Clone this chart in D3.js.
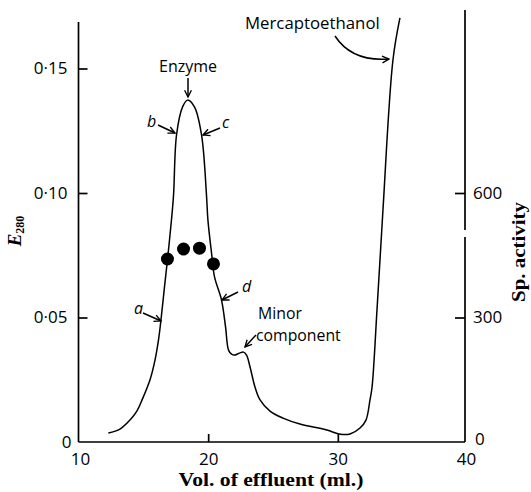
<!DOCTYPE html>
<html><head><meta charset="utf-8">
<script src="https://cdn.jsdelivr.net/npm/d3@7"></script>
<style>
html,body{margin:0;padding:0;background:#fff;}
svg{display:block;}
</style></head><body>
<svg id="chart" width="531" height="492"></svg>
<script>
// ---- data ----
const volume = [12.30, 13.20, 13.97, 14.50, 14.90, 15.51, 15.90, 16.17, 16.36, 16.63, 16.86, 17.17, 17.33, 17.56, 18.02, 18.41, 18.95, 19.49, 19.87, 19.98, 20.26, 20.49, 21.03, 21.34, 21.57, 21.80, 22.03, 22.42, 22.72, 22.96, 23.23, 23.61, 24.00, 24.77, 25.77, 27.08, 29.16, 30.09, 30.94, 31.71, 32.17, 32.48, 32.64, 33.02, 33.48, 34.25, 34.79];
const e280   = [0.0036, 0.0052, 0.0088, 0.0124, 0.0169, 0.0249, 0.0329, 0.0410, 0.0490, 0.0622, 0.0731, 0.0892, 0.0992, 0.1233, 0.1345, 0.1373, 0.1345, 0.1233, 0.0992, 0.0892, 0.0759, 0.0663, 0.0570, 0.0462, 0.0369, 0.0353, 0.0349, 0.0357, 0.0361, 0.0349, 0.0301, 0.0221, 0.0169, 0.0124, 0.0096, 0.0072, 0.0048, 0.0032, 0.0032, 0.0056, 0.0088, 0.0169, 0.0221, 0.0530, 0.0932, 0.1534, 0.1703];
const dotVolume  = [16.86, 18.10, 19.33, 20.41];
const spActivity = [441, 465, 467, 429];
const xTickValues = [10, 20, 30, 40];
const eTickValues = [0, 0.05, 0.10, 0.15];
const eTickLabels = ["0", "0\u00b705", "0\u00b710", "0\u00b715"];
const spTickValues = [0, 300, 600];

// ---- layout ----
const svg = d3.select("#chart");
const x  = d3.scaleLinear().domain([10, 40]).range([78.5, 467.5]);
const y  = d3.scaleLinear().domain([0, 0.05]).range([442, 317.5]);
const yR = d3.scaleLinear().domain([0, 300]).range([442, 317.5]);
const leftX = x(10), rightX = 465, baseY = y(0);
const sans = "'Open Sans', Lato, sans-serif";
const serif = "'Liberation Serif', 'Times New Roman', serif";
const AX = 1.7;

const defs = svg.append("defs");
defs.append("marker").attr("id", "ah").attr("viewBox", "0 0 10 10")
  .attr("refX", 9).attr("refY", 5).attr("markerWidth", 8.5).attr("markerHeight", 8.5)
  .attr("markerUnits", "userSpaceOnUse").attr("orient", "auto")
  .append("path").attr("d", "M1,1 L9,5 L1,9").attr("fill", "none")
  .attr("stroke", "#000").attr("stroke-width", 1.6).attr("stroke-linejoin", "miter");

// bottom axis
const gx = svg.append("g").attr("transform", `translate(0,${baseY})`)
  .call(d3.axisBottom(x).tickValues(xTickValues).tickSize(-8).tickPadding(11).tickFormat(d3.format("d")));
gx.select(".domain").remove();
gx.selectAll(".tick line").filter(d => d === 10 || d === 40).remove();
gx.selectAll(".tick line").attr("stroke-width", AX);
gx.selectAll("text").attr("font-family", sans).attr("font-size", 17).attr("fill", "#000")
  .attr("dx", d => d === 10 ? 1.5 : (d === 40 ? -1.5 : 0));

// left axis
const gy = svg.append("g").attr("transform", `translate(${leftX},0)`)
  .call(d3.axisLeft(y).tickValues(eTickValues).tickSize(-9).tickPadding(11).tickFormat((d, i) => eTickLabels[i]));
gy.select(".domain").remove();
gy.selectAll(".tick line").filter(d => d === 0).remove();
gy.selectAll(".tick line").attr("stroke-width", AX);
gy.selectAll("text").attr("font-family", sans).attr("font-size", 17).attr("fill", "#000")
  .attr("dx", d => d === 0 ? 4 : 0);

// right axis
const gr = svg.append("g").attr("transform", `translate(${rightX},0)`)
  .call(d3.axisRight(yR).tickValues(spTickValues).tickSize(-10).tickPadding(8));
gr.select(".domain").remove();
gr.selectAll(".tick line").filter(d => d === 0).remove();
gr.selectAll(".tick line").attr("stroke-width", AX);
gr.selectAll("text").attr("font-family", sans).attr("font-size", 17).attr("fill", "#000")
  .attr("dx", d => d === 0 ? 2 : 0).attr("dy", d => d === 0 ? "0.15em" : "0.32em");

// axis lines
const axisLines = svg.append("g").attr("stroke", "#000").attr("stroke-width", AX).attr("fill", "none");
axisLines.append("line").attr("x1", leftX).attr("y1", baseY).attr("x2", leftX).attr("y2", 22);
axisLines.append("line").attr("x1", leftX).attr("y1", baseY).attr("x2", rightX).attr("y2", baseY);
axisLines.append("line").attr("x1", rightX).attr("y1", baseY).attr("x2", rightX).attr("y2", 237);
axisLines.append("line").attr("x1", rightX).attr("y1", 230).attr("x2", rightX).attr("y2", 10);

// curve
const line = d3.line()
  .x((d, i) => x(volume[i]))
  .y((d, i) => y(e280[i]))
  .curve(d3.curveCatmullRom.alpha(0.5));
svg.append("path").datum(volume).attr("d", line)
  .attr("fill", "none").attr("stroke", "#000").attr("stroke-width", 1.5);

// specific activity dots
svg.append("g").selectAll("circle").data(dotVolume).join("circle")
  .attr("cx", d => x(d)).attr("cy", (d, i) => yR(spActivity[i])).attr("r", 6.5).attr("fill", "#000");

// annotations
const ann = svg.append("g").attr("font-family", sans).attr("fill", "#000");
ann.append("text").attr("x", 188).attr("y", 72).attr("text-anchor", "middle").attr("font-size", 16).text("Enzyme");
ann.append("text").attr("x", 245).attr("y", 29).attr("font-size", 16.8).text("Mercaptoethanol");
ann.append("text").attr("x", 258).attr("y", 318.5).attr("font-size", 15.8).text("Minor");
ann.append("text").attr("x", 256).attr("y", 341).attr("font-size", 15.8).text("component");
const letters = [["b", 151.5, 127], ["c", 225.5, 128], ["a", 138.5, 314], ["d", 246.5, 292]];
letters.forEach(([t, lx, ly]) => {
  ann.append("text").attr("x", lx).attr("y", ly).attr("text-anchor", "middle")
    .attr("font-size", 16).attr("font-style", "italic").text(t);
});

const arrows = svg.append("g").attr("stroke", "#000").attr("stroke-width", 1.5).attr("fill", "none");
const arr = (d) => arrows.append("path").attr("d", d).attr("marker-end", "url(#ah)");
arr("M188,78 L188,97");
arr("M158,125 L175,133");
arr("M220,128 L203,135");
arr("M143,313 L161,321");
arr("M238,292 L222,300");
arr("M256,335 L245,347");
arr("M335,36 Q352,62 389,59");

// axis titles
svg.append("text").attr("x", 271).attr("y", 486).attr("text-anchor", "middle")
  .attr("font-family", serif).attr("font-weight", "bold").attr("font-size", 19.5)
  .attr("textLength", 185).attr("lengthAdjust", "spacingAndGlyphs")
  .text("Vol. of effluent (ml.)");

const et = svg.append("text").attr("transform", "translate(21,231) rotate(-90)")
  .attr("text-anchor", "middle").attr("font-family", serif).attr("font-weight", "bold");
et.append("tspan").attr("font-size", 19).attr("font-style", "italic").text("E");
et.append("tspan").attr("font-size", 12).attr("dy", 3).text("280");

svg.append("text").attr("transform", "translate(525,252) rotate(-90)")
  .attr("text-anchor", "middle").attr("font-family", serif).attr("font-weight", "bold")
  .attr("font-size", 19).attr("textLength", 100).attr("lengthAdjust", "spacingAndGlyphs")
  .text("Sp. activity");
</script>
</body></html>
